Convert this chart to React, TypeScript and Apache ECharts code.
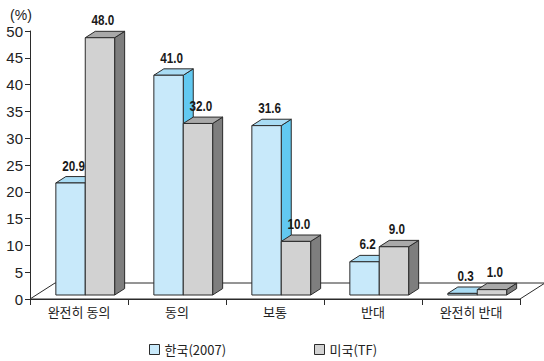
import React, { useEffect, useRef } from "react";
import * as echarts from "echarts";

// Survey answers and shares (%)
const categories = ["완전히 동의", "동의", "보통", "반대", "완전히 반대"];
const koreaValues = [20.9, 41.0, 31.6, 6.2, 0.3];
const usValues = [48.0, 32.0, 10.0, 9.0, 1.0];
const seriesNames = ["한국(2007)", "미국(TF)"];
const yTicks = { min: 0, max: 50, interval: 5 };

// Pseudo-3D geometry: floor depth vector, bar offset into the floor, bar depth
const DEPTH_X = 25;
const DEPTH_Y = -16;
const BAR_OFFSET = 0.25;
const BAR_DEPTH = 0.4;
const BAR_FRACTION = 0.3;

const EDGE = "#2b2b2b";
const NUM_FONT = "'Liberation Sans', 'DejaVu Sans', sans-serif";
const KR_FONT = "'Noto Sans CJK KR', 'Noto Sans', sans-serif";

const palettes = [
  { front: "#c8e9fa", top: "#a9dcf4", side: "#62c9f1" },
  { front: "#d2d2d2", top: "#a9a9a9", side: "#7e7e7e" },
];

function barRenderer(which: number) {
  const pal = palettes[which];
  return (params: any, api: any) => {
    const cat = api.value(0);
    const v = api.value(1);
    const base = api.coord([cat, 0]);
    const top = api.coord([cat, v]);
    const band = api.size([1, 0])[0];
    const bw = band * BAR_FRACTION;
    const ox = DEPTH_X * BAR_OFFSET;
    const oy = DEPTH_Y * BAR_OFFSET;
    const dx = DEPTH_X * BAR_DEPTH;
    const dy = DEPTH_Y * BAR_DEPTH;
    const x0 = base[0] + ox - (which === 0 ? bw : 0);
    const x1 = x0 + bw;
    const yb = base[1] + oy;
    const yt = top[1] + oy;
    const stroke = { stroke: EDGE, lineWidth: 1, lineJoin: "round" };
    return {
      type: "group",
      children: [
        {
          type: "polygon",
          shape: { points: [[x1, yt], [x1 + dx, yt + dy], [x1 + dx, yb + dy], [x1, yb]] },
          style: { fill: pal.side, ...stroke },
        },
        {
          type: "polygon",
          shape: { points: [[x0, yt], [x1, yt], [x1 + dx, yt + dy], [x0 + dx, yt + dy]] },
          style: { fill: pal.top, ...stroke },
        },
        {
          type: "rect",
          shape: { x: x0, y: yt, width: bw, height: yb - yt },
          style: { fill: pal.front, ...stroke },
        },
        {
          type: "text",
          x: (x0 + x1) / 2 + 3,
          y: yt + dy - 11,
          scaleX: 0.78,
          style: {
            text: v.toFixed(1),
            fill: "#1a1a1a",
            font: `bold 15px ${NUM_FONT}`,
            align: "center",
            verticalAlign: "middle",
          },
        },
      ],
    };
  };
}

function floorRenderer(params: any) {
  const cs = params.coordSys;
  const x = cs.x;
  const y = cs.y + cs.height;
  const w = cs.width;
  return {
    type: "polygon",
    shape: {
      points: [
        [x, y],
        [x + DEPTH_X, y + DEPTH_Y],
        [x + w + DEPTH_X, y + DEPTH_Y],
        [x + w, y],
      ],
    },
    style: { fill: "#ffffff", stroke: EDGE, lineWidth: 1 },
  };
}

export default function App() {
  const ref = useRef<HTMLDivElement>(null);

  useEffect(() => {
    if (!ref.current) return;
    const chart = echarts.init(ref.current, null, { renderer: "svg" });
    const legendText = { fontFamily: KR_FONT, fontSize: 13, color: "#222" };
    chart.setOption({
      animation: false,
      backgroundColor: "#ffffff",
      grid: { left: 30, right: 24, top: 31, bottom: 62 },
      legend: [
        {
          left: 144,
          top: 338,
          itemWidth: 10,
          itemHeight: 10,
          itemGap: 5,
          textStyle: legendText,
          data: [
            {
              name: seriesNames[0],
              icon: "rect",
              itemStyle: { color: palettes[0].front, borderColor: EDGE, borderWidth: 1 },
            },
          ],
        },
        {
          left: 309,
          top: 338,
          itemWidth: 10,
          itemHeight: 10,
          itemGap: 5,
          textStyle: legendText,
          data: [
            {
              name: seriesNames[1],
              icon: "rect",
              itemStyle: { color: palettes[1].front, borderColor: EDGE, borderWidth: 1 },
            },
          ],
        },
      ],
      xAxis: {
        type: "category",
        data: categories,
        boundaryGap: true,
        axisLine: { show: true, lineStyle: { color: EDGE, width: 1 } },
        axisTick: { show: true, length: 6, lineStyle: { color: EDGE } },
        axisLabel: { margin: 6, fontFamily: KR_FONT, fontSize: 13, color: "#222" },
        splitLine: { show: false },
      },
      yAxis: {
        type: "value",
        min: yTicks.min,
        max: yTicks.max,
        interval: yTicks.interval,
        name: "(%)",
        nameLocation: "end",
        nameGap: 9,
        nameTextStyle: {
          fontFamily: "'Liberation Sans', sans-serif",
          fontSize: 14,
          color: "#222",
          padding: [0, 18, 0, 0],
        },
        axisLine: { show: true, lineStyle: { color: EDGE, width: 1 } },
        axisTick: { show: true, length: 5, lineStyle: { color: EDGE } },
        axisLabel: {
          margin: 7,
          fontFamily: "'Liberation Sans', sans-serif",
          fontSize: 15,
          color: "#222",
        },
        splitLine: { show: false },
      },
      series: [
        {
          type: "custom",
          name: "floor",
          renderItem: floorRenderer,
          data: [[0, 0]],
          silent: true,
          z: 1,
        },
        {
          type: "custom",
          name: seriesNames[0],
          renderItem: barRenderer(0),
          encode: { x: 0, y: 1 },
          itemStyle: { color: palettes[0].front },
          data: koreaValues.map((v, i) => [i, v]),
          z: 2,
        },
        {
          type: "custom",
          name: seriesNames[1],
          renderItem: barRenderer(1),
          encode: { x: 0, y: 1 },
          itemStyle: { color: palettes[1].front },
          data: usValues.map((v, i) => [i, v]),
          z: 3,
        },
      ],
    });
    return () => chart.dispose();
  }, []);

  return (
    <div
      ref={ref}
      style={{ position: "fixed", left: 0, top: 0, width: 544, height: 361, background: "#fff" }}
    />
  );
}
